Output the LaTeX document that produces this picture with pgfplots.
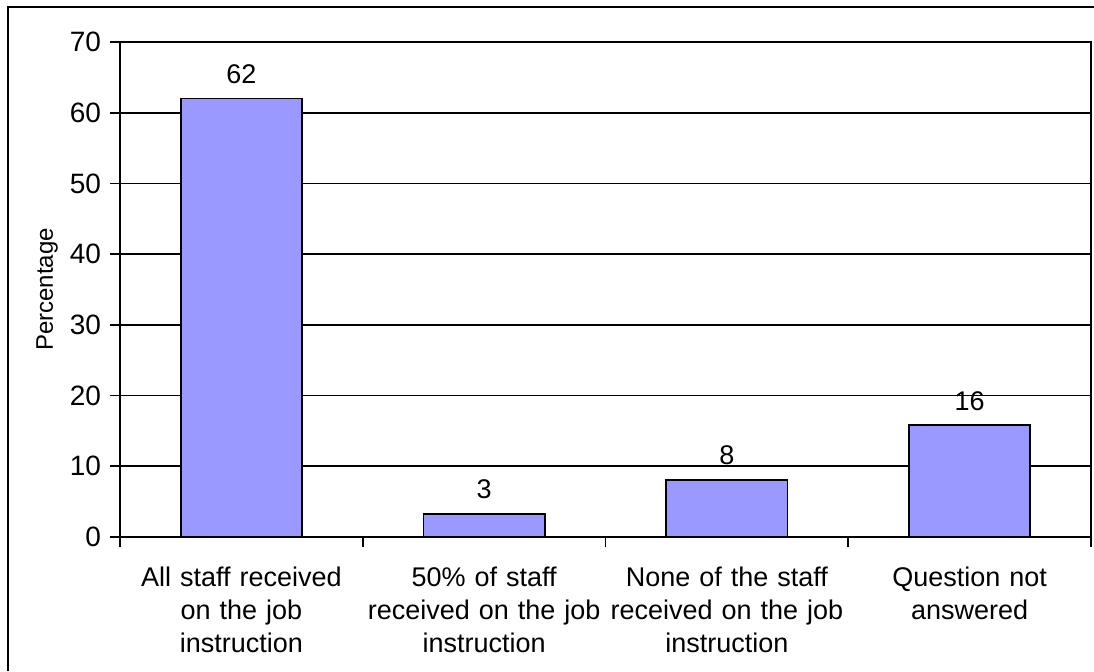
\documentclass[border=0pt]{standalone}
\usepackage{fontspec}
\setmainfont{Liberation Sans}
\usepackage{pgfplots}
\pgfplotsset{compat=1.18}
\definecolor{barblue}{HTML}{9999FF}
\begin{document}
\begin{tikzpicture}[x=1pt,y=1pt]
\path[use as bounding box] (0,0) rectangle (547,335.5);
\draw[line width=0.9pt] (4,0) -- (4,332) -- (547,332);
\begin{axis}[
  at={(60pt,67pt)}, anchor=south west,
  width=485.5pt, height=247.5pt, scale only axis,
  /pgf/number format/assume math mode=true,
  xmin=-0.5, xmax=3.5, ymin=0, ymax=70,
  ytick={0,10,...,70},
  xtick={-0.5,0.5,1.5,2.5,3.5}, xticklabels={},
  extra x ticks={0,1,2,3},
  extra x tick labels={{All staff received\\on the job\\instruction},{50\% of staff\\received on the job\\instruction},{None of the staff\\received on the job\\instruction},{Question not\\answered}},
  extra x tick style={major tick length=0pt, grid=none},
  tick align=outside, major tick length=5pt,
  tick pos=left,
  ymajorgrids, grid style={black, line width=0.8pt},
  axis line style={line width=1pt},
  tick style={black, line width=0.9pt},
  tick label style={font=\fontsize{13.5}{16.5}\selectfont},
  yticklabel style={font=\fontsize{14}{16.5}\selectfont, xshift=-1pt},
  xticklabel style={align=center, text width=130pt, yshift=-11.5pt},
  ylabel={Percentage},
  label style={font=\fontsize{12}{14}\selectfont},
  ylabel style={at={(axis description cs:-0.075,0.5)}, anchor=center},
  ybar, bar width=0.5,
  nodes near coords={\pgfmathprintnumber[fixed,precision=0]{\pgfplotspointmeta}},
  every node near coord/.append style={font=\fontsize{13.5}{16.5}\selectfont, anchor=south, yshift=3.7pt},
]
\addplot[fill=barblue, draw=black, line width=0.9pt] coordinates {(0,62) (1,3.3) (2,8.1) (3,15.8)};
\end{axis}
\end{tikzpicture}
\end{document}
